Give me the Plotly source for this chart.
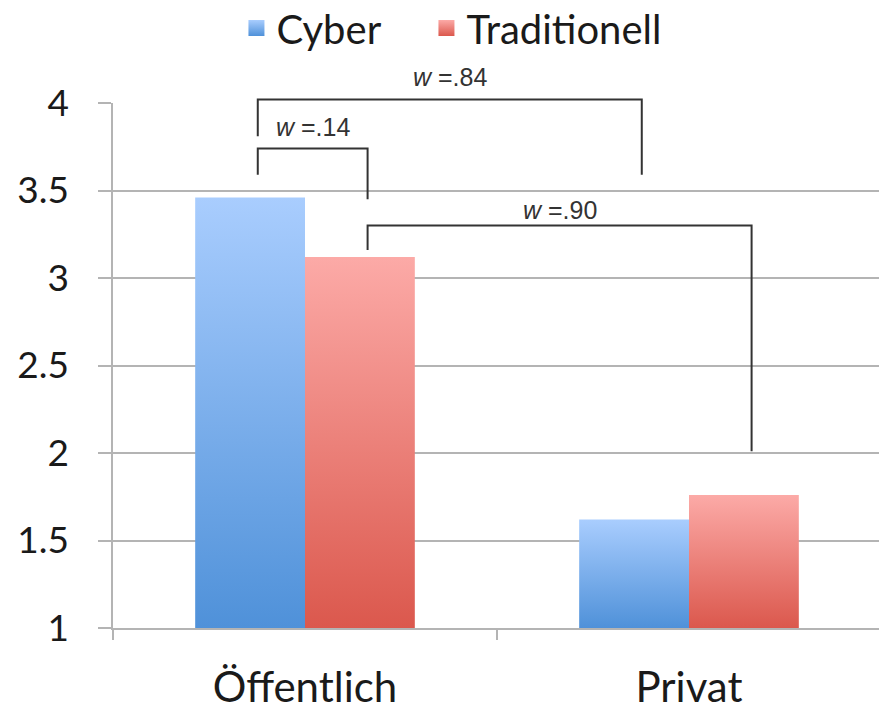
import plotly.graph_objects as go

# ---- data ----
categories = ["Öffentlich", "Privat"]
series_names = ["Cyber", "Traditionell"]
cyber_values = [3.46, 1.62]
trad_values = [3.12, 1.76]
y_tick_values = [1, 1.5, 2, 2.5, 3, 3.5, 4]
y_tick_labels = ["1", "1.5", "2", "2.5", "3", "3.5", "4"]

# comparison brackets: (category index, series index) for each end
bracket_labels = [".84", ".14", ".90"]
bracket_left = [(0, 0), (0, 0), (0, 1)]
bracket_right = [(1, 0), (0, 1), (1, 1)]
bracket_top = [4.02, 3.74, 3.30]
bracket_left_bottom = [3.81, 3.59, 3.16]
bracket_right_bottom = [3.59, 3.45, 2.01]
bracket_label_y = [4.15, 3.865, 3.39]

# ---- styling ----
top_colors = ["#a9cdfe", "#fcaaa7"]
bottom_colors = ["#4f91d9", "#db584d"]
legend_widths = [145, 230]
grid_color = "#b4b4b4"
y_min, y_max = 1, 4
bar_width = 0.286
nudge = 0.02

values = [cyber_values, trad_values]

fig = go.Figure()


def bar_x(cat, s):
    left = cat - bar_width + s * bar_width
    return left, left + bar_width


for s, name in enumerate(series_names):
    for c, cat in enumerate(categories):
        x0, x1 = bar_x(c, s)
        v = values[s][c]
        fig.add_trace(go.Scatter(
            x=[x0, x0, x1, x1, x0], y=[y_min, v, v, y_min, y_min],
            mode="lines", line=dict(width=0), fill="toself",
            fillgradient=dict(type="vertical",
                              colorscale=[[0, bottom_colors[s]], [1, top_colors[s]]]),
            showlegend=False, hoverinfo="skip",
        ))
    # legend entry
    fig.add_trace(go.Scatter(
        x=[None], y=[None], mode="markers", name=name,
        legendwidth=legend_widths[s],
        marker=dict(symbol="square", size=16, color=top_colors[s],
                    gradient=dict(type="vertical", color=bottom_colors[s]),
                    line=dict(width=0)),
    ))


def to_paper(v):
    return (v - y_min) / (y_max - y_min)


def center(cs):
    c, s = cs
    x0, x1 = bar_x(c, s)
    return (x0 + x1) / 2 + nudge


shapes = []
annotations = []
for i, lab in enumerate(bracket_labels):
    xl = center(bracket_left[i])
    xr = center(bracket_right[i])
    path = (f"M {xl},{to_paper(bracket_left_bottom[i])} L {xl},{to_paper(bracket_top[i])} "
            f"L {xr},{to_paper(bracket_top[i])} L {xr},{to_paper(bracket_right_bottom[i])}")
    shapes.append(dict(type="path", path=path, xref="x", yref="paper",
                       line=dict(color="#333333", width=2)))
    annotations.append(dict(x=(xl + xr) / 2, y=to_paper(bracket_label_y[i]),
                            xref="x", yref="paper", showarrow=False,
                            xanchor="center", yanchor="middle",
                            text=f"<i>w</i> ={lab}",
                            font=dict(family="Liberation Sans", size=25, color="#333333")))

fig.update_layout(
    width=879, height=710,
    margin=dict(l=113, r=0, t=103, b=82),
    paper_bgcolor="white", plot_bgcolor="white",
    font=dict(family="Lato", color="#1a1a1a"),
    shapes=shapes, annotations=annotations,
    legend=dict(orientation="h", xref="container", x=0.269, xanchor="left",
                yref="container", y=0.9606, yanchor="middle",
                entrywidthmode="pixels",
                font=dict(size=40, family="Lato", color="#1a1a1a"),
                itemclick=False),
    xaxis=dict(range=[-0.5, 1.4948], tickvals=[0, 1], ticktext=categories,
               ticks="", showgrid=False, zeroline=False, automargin=False,
               showline=True, linecolor=grid_color, linewidth=1.5,
               tickfont=dict(size=42), ticklabelstandoff=22,
               minor=dict(tickvals=[-0.5, 0.5, 1.5], ticks="outside", ticklen=10,
                          tickcolor=grid_color, tickwidth=1.5, showgrid=False)),
    yaxis=dict(range=[y_min, y_max], tickvals=y_tick_values, ticktext=y_tick_labels,
               ticks="outside", ticklen=13, tickcolor=grid_color, tickwidth=1.5,
               showgrid=True, gridcolor=grid_color, gridwidth=1.5, zeroline=False,
               automargin=False,
               showline=True, linecolor=grid_color, linewidth=1.5,
               tickfont=dict(size=37), ticklabelstandoff=22),
)

fig.write_html("out.html", config={"displayModeBar": False},
               post_script="document.body.style.margin='0';")
